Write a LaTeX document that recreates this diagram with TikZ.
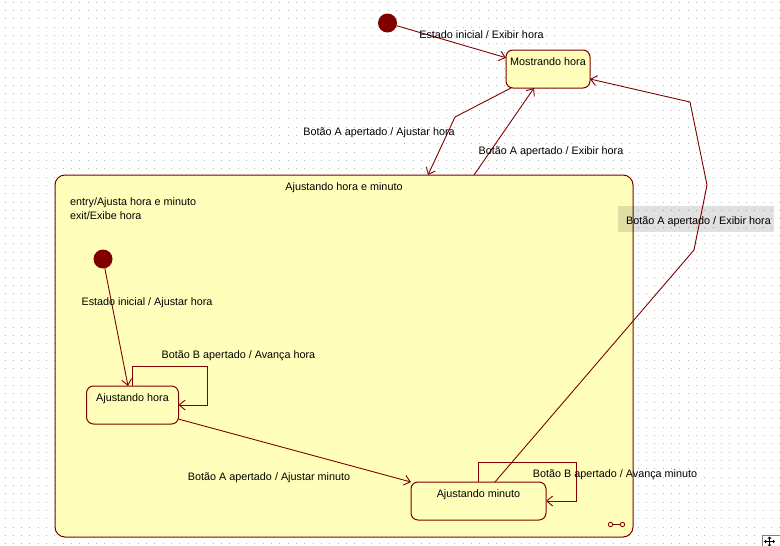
\documentclass[tikz,border=0pt]{standalone}
\usepackage{fontspec}
\setmainfont{Liberation Sans}
\usetikzlibrary{arrows.meta}
\definecolor{umlred}{RGB}{128,0,0}
\definecolor{umlfill}{RGB}{255,255,187}
\definecolor{griddot}{RGB}{185,185,185}
\begin{document}
\begin{tikzpicture}[x=1pt,y=-1pt,
  every node/.style={font=\fontsize{10.8}{13}\selectfont, inner sep=0pt, outer sep=0pt},
  state/.style={draw=umlred, fill=umlfill, line width=1pt, rounded corners=7pt, rectangle},
  trans/.style={draw=umlred, line width=0.9pt, -{Straight Barb[length=6pt,width=10pt,line width=0.9pt]}},
  initst/.style={circle, fill=umlred, minimum size=19pt},
  lbl/.style={anchor=base}
]
\useasboundingbox (0,0) rectangle (780,546);
\fill[white] (0,0) rectangle (780,546);
\foreach \k in {0,...,65} {
  \draw[griddot, line width=1pt, dash pattern=on 1pt off 7.333pt] (4.5, {2.33+8.333*\k}) -- (780, {2.33+8.333*\k});
}

% composite state
\node[state, rounded corners=10pt, minimum width=578pt, minimum height=362pt,
  label={[anchor=base, label distance=-15pt]north:Ajustando hora e minuto}] (comp) at (344,356) {};
\node[anchor=base west] (entrytxt) at (70,205.5) {entry/Ajusta hora e minuto};
\node[anchor=base west] (exittxt) at (70,219.5) {exit/Exibe hora};

% highlight behind selected label
\fill[black, fill opacity=0.12] (618,206) rectangle (774,232);

% states
\node[initst] (init1) at (387.5,23) {};
\node[state, minimum width=84pt, minimum height=38pt,
  label={[anchor=base, label distance=-15pt]north:Mostrando hora}] (mostrando) at (548,69) {};
\node[initst] (init2) at (103,259) {};
\node[state, minimum width=92pt, minimum height=38pt,
  label={[anchor=base, label distance=-15pt]north:Ajustando hora}] (hora) at (132.5,405) {};
\node[state, minimum width=135pt, minimum height=38pt,
  label={[anchor=base, label distance=-15pt]north:Ajustando minuto}] (minuto) at (478.5,501) {};

% bend coordinates
\coordinate (b1) at (455,117);
\coordinate (r1) at (694,250);
\coordinate (r2) at (707,185);
\coordinate (r3) at (690,102);

% transitions
\draw[trans] (init1) -- (mostrando.165);
\draw[trans] ([xshift=-37pt]mostrando.south) -- (b1) -- ([xshift=84pt]comp.north);
\draw[trans] ([xshift=130pt]comp.north) -- ([xshift=-14pt]mostrando.south);
\draw[trans] ([xshift=16.5pt]minuto.north) -- (r1) -- (r2) -- (r3) -- ([yshift=-10pt]mostrando.east);
\draw[trans] (init2) -- ([xshift=-4.5pt]hora.north);
\draw[trans] (hora.north) -- ++(0,-20) -| ([xshift=29pt]hora.east) -- (hora.east);
\draw[trans] (hora.-17) -- (minuto.north west);
\draw[trans] (minuto.north) -- ++(0,-20) -| ([xshift=30pt]minuto.east) -- (minuto.east);

% transition labels
\node[lbl] (l1) at (481.5,38) {Estado inicial / Exibir hora};
\node[lbl] (l2) at (379,135.5) {Botão A apertado / Ajustar hora};
\node[lbl] (l3) at (551,154) {Botão A apertado / Exibir hora};
\node[lbl] (l4) at (698.5,224.7) {Botão A apertado / Exibir hora};
\node[lbl] (l5) at (147,305.7) {Estado inicial / Ajustar hora};
\node[lbl] (l6) at (238.5,358.3) {Botão B apertado / Avança hora};
\node[lbl] (l7) at (269,480.7) {Botão A apertado / Ajustar minuto};
\node[lbl] (l8) at (615,477.3) {Botão B apertado / Avança minuto};

% composite icon
\draw[umlred, line width=0.8pt] (612.5,524.5) -- (620.5,524.5);
\draw[umlred, line width=0.8pt, fill=umlfill] (610.5,524.5) circle (2.2);
\draw[umlred, line width=0.8pt, fill=umlfill] (622.5,524.5) circle (2.2);

% corner move icon
\draw[black!50, line width=1pt, fill=white] (762.5,535.5) rectangle (782,550);
\draw[black, line width=0.8pt, {Triangle[length=2pt,width=3.5pt]}-{Triangle[length=2pt,width=3.5pt]}] (764,541.5) -- (775,541.5);
\draw[black, line width=0.8pt, {Triangle[length=2pt,width=3.5pt]}-{Triangle[length=2pt,width=3.5pt]}] (769.5,536.5) -- (769.5,546.5);
\end{tikzpicture}
\end{document}
